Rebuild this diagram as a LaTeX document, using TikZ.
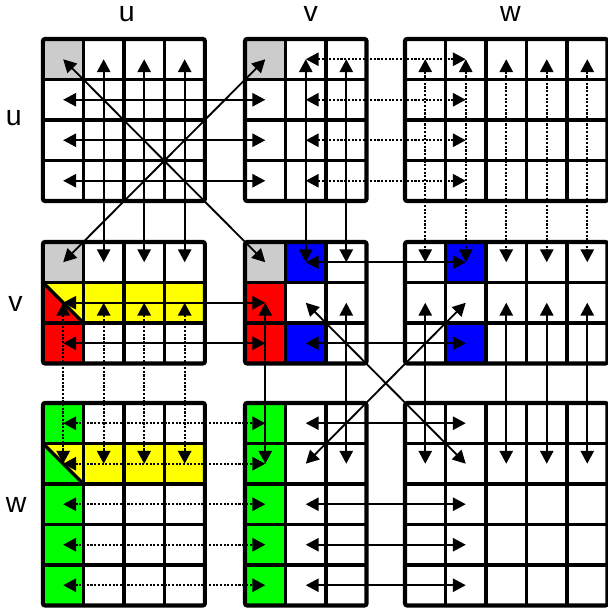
\documentclass[tikz,border=0pt]{standalone}
\usepackage{fontspec}
\setmainfont{Liberation Sans}
\usetikzlibrary{arrows.meta}

\definecolor{cellgray}{RGB}{204,204,204}
\definecolor{cellred}{RGB}{255,0,0}
\definecolor{cellblue}{RGB}{0,0,255}
\definecolor{cellyellow}{RGB}{255,255,0}
\definecolor{cellgreen}{RGB}{0,255,0}

% block name / left / top / last row / last column
\def\blocklist{uu/1.06/0.963/3/3, uv/6.05/0.963/3/2, uw/10.0/0.963/3/4,
  vu/1.06/5.975/2/3, vv/6.05/5.975/2/2, vw/10.0/5.975/2/4,
  wu/1.06/9.95/4/3, wv/6.05/9.95/4/2, ww/10.0/9.95/4/4}

\begin{document}
\begin{tikzpicture}[
    x=1cm, y=-1cm,
    every node/.style={font=\fontsize{20}{24}\selectfont},
    gridline/.style={line width=2.4pt},
    blockframe/.style={line width=2.9pt, rounded corners=1.5pt},
    solidlink/.style={line width=1.3pt, {Triangle[length=0.32cm,width=0.33cm]}-{Triangle[length=0.32cm,width=0.33cm]}},
    dotlink/.style={solidlink, line width=1.5pt, dash pattern=on 1.5pt off 1.1pt}
]
\useasboundingbox (0,0) rectangle (15.012,15.111);

\foreach \blk/\bx/\by/\nr/\nc in \blocklist {
  \foreach \r in {0,...,\nr} \foreach \c in {0,...,\nc}
    \coordinate (\blk-\r-\c) at (\bx+\c+0.5,\by+\r+0.5);
}

\foreach \cellname/\colr in {uu-0-0/cellgray, uv-0-0/cellgray, vu-0-0/cellgray, vv-0-0/cellgray,
    vu-1-0/cellred, vu-2-0/cellred, vu-1-1/cellyellow, vu-1-2/cellyellow, vu-1-3/cellyellow,
    vv-0-1/cellblue, vv-1-0/cellred, vv-2-0/cellred, vv-2-1/cellblue,
    vw-0-1/cellblue, vw-2-1/cellblue,
    wu-0-0/cellgreen, wu-1-0/cellgreen, wu-2-0/cellgreen, wu-3-0/cellgreen, wu-4-0/cellgreen,
    wu-1-1/cellyellow, wu-1-2/cellyellow, wu-1-3/cellyellow,
    wv-0-0/cellgreen, wv-1-0/cellgreen, wv-2-0/cellgreen, wv-3-0/cellgreen, wv-4-0/cellgreen}
  \fill[\colr] (\cellname) ++(-0.5,-0.5) rectangle ++(1,1);
\fill[cellyellow] (vu-1-0) ++(-0.5,-0.5) -- ++(1,0) -- ++(0,1) -- cycle;
\fill[cellyellow] (wu-1-0) ++(-0.5,-0.5) -- ++(1,0) -- ++(0,1) -- cycle;
\draw[gridline] (vu-1-0) ++(-0.5,-0.5) -- ++(1,1);
\draw[gridline] (wu-1-0) ++(-0.5,-0.5) -- ++(1,1);

\foreach \blk/\bx/\by/\nr/\nc in \blocklist {
  \foreach \c in {1,...,\nc} \draw[gridline] (\bx+\c,\by) -- ++(0,\nr+1);
  \foreach \r in {1,...,\nr} \draw[gridline] (\bx,\by+\r) -- ++(\nc+1,0);
  \draw[blockframe] (\bx,\by) rectangle ++(\nc+1,\nr+1);
}

\node (colu) at (3.13,0.36) {u};
\node (colv) at (7.67,0.35) {v};
\node (colw) at (12.6,0.35) {w};
\node (rowu) at (0.34,2.92) {u};
\node (rowv) at (0.38,7.5) {v};
\node (roww) at (0.4,12.47) {w};

\draw[solidlink] (uu-0-0) -- (vv-0-0);
\draw[solidlink] (vu-0-0) -- (uv-0-0);
\foreach \c in {1,2,3} \draw[solidlink] (uu-0-\c) -- (vu-0-\c);
\foreach \r in {1,2,3} \draw[solidlink] (uu-\r-0) -- (uv-\r-0);
\foreach \c in {1,2} \draw[solidlink] (uv-0-\c) -- (vv-0-\c);
\foreach \r in {1,2} \draw[solidlink] (vu-\r-0) -- (vv-\r-0);
\draw[solidlink] (vv-1-0) -- (wv-1-0);
\draw[solidlink] (vv-1-2) -- (wv-1-2);
\foreach \r in {0,2} \draw[solidlink] (vv-\r-1) -- (vw-\r-1);
\draw[solidlink] (vv-1-1) -- (ww-1-1);
\draw[solidlink] (vw-1-1) -- (wv-1-1);
\foreach \c in {0,2,3,4} \draw[solidlink] (vw-1-\c) -- (ww-1-\c);
\foreach \r in {0,2,3,4} \draw[solidlink] (wv-\r-1) -- (ww-\r-1);

\foreach \r in {0,...,3} \draw[dotlink] (uv-\r-1) -- (uw-\r-1);
\foreach \c in {0,...,4} \draw[dotlink] (uw-0-\c) -- (vw-0-\c);
\foreach \c in {0,...,3} \draw[dotlink] (vu-1-\c) -- (wu-1-\c);
\foreach \r in {0,...,4} \draw[dotlink] (wu-\r-0) -- (wv-\r-0);

\end{tikzpicture}
\end{document}
